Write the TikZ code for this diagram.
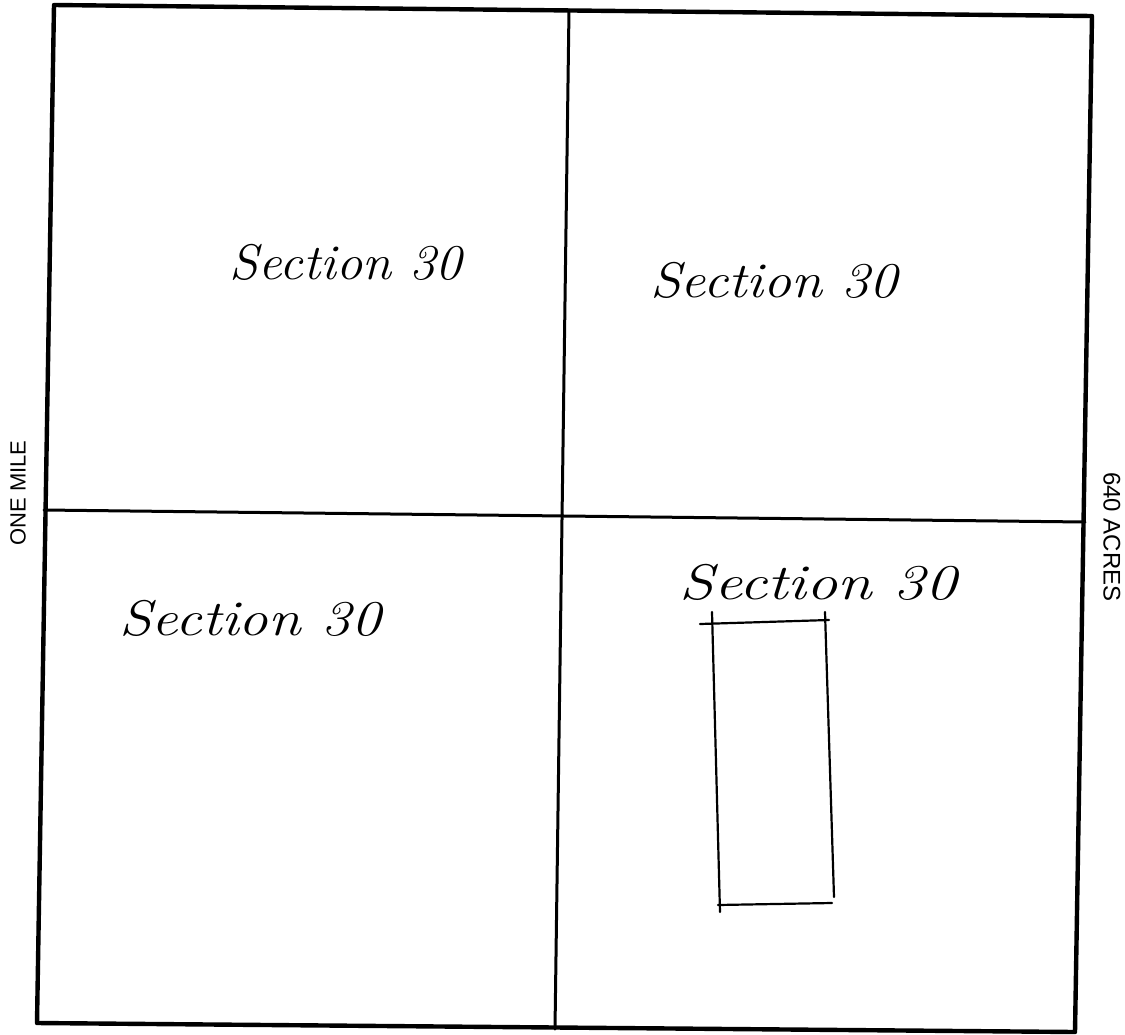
\documentclass[tikz,border=0pt]{standalone}
\usepackage{fontspec}
\newfontfamily\labelfont{Liberation Sans}
\begin{document}
\begin{tikzpicture}[x=1pt,y=-1pt,
  frame/.style={line width=4.4pt,line cap=round,line join=round},
  cross/.style={line width=3pt,line cap=round},
  lot/.style={line width=2.2pt,line cap=round},
  hand/.style={font=\fontsize{50}{50}\selectfont\itshape,inner sep=0pt,anchor=center},
  side/.style={font=\labelfont\fontsize{22}{22}\selectfont,inner sep=0pt}]
\useasboundingbox (0,0) rectangle (1125,1034);
% outer frame corners
\coordinate (tl) at (54,5);
\coordinate (tr) at (1092,16);
\coordinate (br) at (1075,1032);
\coordinate (bl) at (37,1023);
\draw[frame] (tl) -- (tr) -- (br) -- (bl) -- cycle;
% dividing lines
\coordinate (vt) at (569,10);
\coordinate (vb) at (555,1029);
\coordinate (hl) at (44,510);
\coordinate (hr) at (1085,522);
\draw[cross] (vt) -- (vb);
\draw[cross] (hl) -- (hr);
% small lot rectangle
\coordinate (ta) at (700,624);
\coordinate (tb) at (829,620);
\coordinate (la) at (712,612);
\coordinate (lb) at (720,912);
\coordinate (ra) at (825,612);
\coordinate (rb) at (834,897);
\coordinate (ba) at (718,905);
\coordinate (bb) at (832,903);
\draw[lot] (ta) -- (tb);
\draw[lot] (la) -- (lb);
\draw[lot] (ra) -- (rb);
\draw[lot] (ba) -- (bb);
% handwritten labels
\node[hand,xscale=1.05] (s1) at (346,262) {Section 30};
\node[hand,xscale=1.12] (s2) at (774,280) {Section 30};
\node[hand,xscale=1.18] (s3) at (250,618) {Section 30};
\node[hand,xscale=1.25] (s4) at (818,582) {Section 30};
% side labels
\node[side,rotate=90] (one) at (18,493) {ONE MILE};
\node[side,rotate=-90,font=\labelfont\fontsize{24}{24}\selectfont] (acres) at (1112,537) {640 ACRES};
\end{tikzpicture}
\end{document}
